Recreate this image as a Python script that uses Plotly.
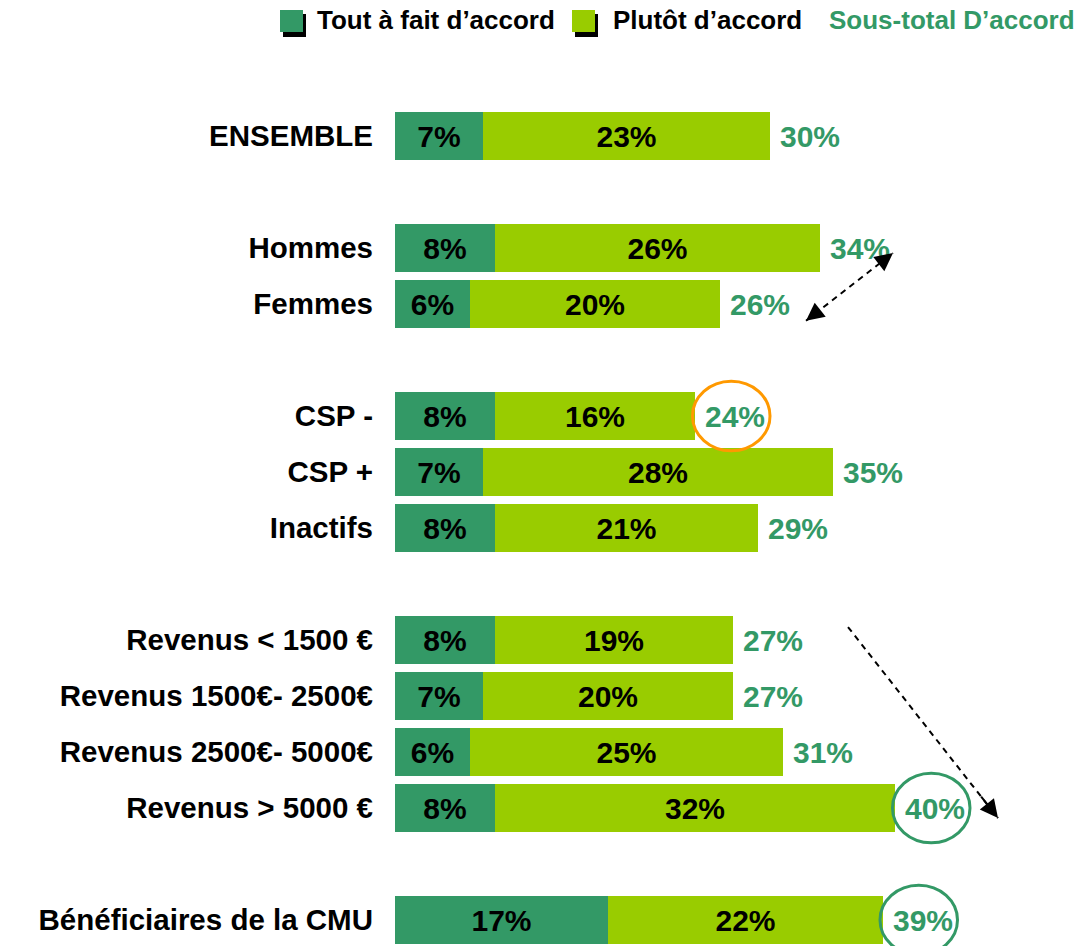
import plotly.graph_objects as go

# ---- data ----
categories = ["ENSEMBLE", "Hommes", "Femmes", "CSP -", "CSP +", "Inactifs",
              "Revenus < 1500 €", "Revenus 1500€- 2500€", "Revenus 2500€- 5000€",
              "Revenus > 5000 €", "Bénéficiaires de la CMU"]
row_pos = [0, 2, 3, 5, 6, 7, 9, 10, 11, 12, 14]
tout_a_fait = [7, 8, 6, 8, 7, 8, 8, 7, 6, 8, 17]
plutot = [23, 26, 20, 16, 28, 21, 19, 20, 25, 32, 22]
sous_total = [30, 34, 26, 24, 35, 29, 27, 27, 31, 40, 39]
legend_names = ["Tout à fait d’accord", "Plutôt d’accord", "Sous-total D’accord"]
circled = {"CSP -": "#FF9900", "Revenus > 5000 €": "#339966",
           "Bénéficiaires de la CMU": "#339966"}

DARK = "#339966"
LIGHT = "#99CC00"
FONT = "Liberation Sans"

# layout geometry (pixels)
W, H = 1081, 946
ML, MR, MT, MB = 395, 11, 80, 0
XMAX = 54.0
YTOP, YBOT = -1.0, 14.464

def px(xp):
    return (xp - ML) / (W - ML - MR)

def py(yp):
    return (H - MB - yp) / (H - MT - MB)

fig = go.Figure()
fig.add_trace(go.Bar(
    y=row_pos, x=tout_a_fait, orientation="h", width=0.86,
    marker=dict(color=DARK, line=dict(width=0)),
    text=[f"{v}%" for v in tout_a_fait], textposition="inside",
    insidetextanchor="middle", constraintext="none",
    textfont=dict(family=FONT, size=30, color="black", weight="bold"),
    name=legend_names[0], showlegend=False, hoverinfo="skip"))
fig.add_trace(go.Bar(
    y=row_pos, x=plutot, orientation="h", width=0.86,
    marker=dict(color=LIGHT, line=dict(width=0)),
    text=[f"{v}%" for v in plutot], textposition="inside",
    insidetextanchor="middle", constraintext="none",
    textfont=dict(family=FONT, size=30, color="black", weight="bold"),
    name=legend_names[1], showlegend=False, hoverinfo="skip"))

annotations = []
shapes = []
for cat, y, t in zip(categories, row_pos, sous_total):
    annotations.append(dict(
        x=t, y=y, xref="x", yref="y", text=f"{t}%", showarrow=False,
        xanchor="left", yanchor="middle", xshift=8,
        font=dict(family=FONT, size=30, color=DARK, weight="bold")))
    if cat in circled:
        shapes.append(dict(
            type="circle", xref="x", yref="y",
            x0=t + 2.9 - 3.1, x1=t + 2.9 + 3.1, y0=y - 0.62, y1=y + 0.62,
            line=dict(color=circled[cat], width=3)))

# dashed arrows (comparison markers)
arrows = [((32.88, 3.30), (39.84, 2.089), True),
          ((36.24, 8.768), (48.24, 12.18), False)]
for (xa, ya), (xb, yb), both in arrows:
    shapes.append(dict(type="line", xref="x", yref="y", x0=xa, y0=ya, x1=xb, y1=yb,
                       line=dict(color="black", width=2, dash="6px,5px")))

def head(tipx, tipy, fromx, fromy):
    annotations.append(dict(x=tipx, y=tipy, ax=fromx, ay=fromy, axref="x", ayref="y",
                            xref="x", yref="y", text="", showarrow=True,
                            arrowhead=2, arrowsize=1.8, arrowwidth=2, arrowcolor="black"))

for (xa, ya), (xb, yb), both in arrows:
    head(xb, yb, xb - (xb - xa) * 0.12, yb - (yb - ya) * 0.12)
    if both:
        head(xa, ya, xa + (xb - xa) * 0.12, ya + (yb - ya) * 0.12)

# legend (manual)
leg_sq = [(280, DARK, 315, legend_names[0]), (572, LIGHT, 611, legend_names[1])]
for x0, col, tx, name in leg_sq:
    shapes.append(dict(type="rect", xref="paper", yref="paper",
                       x0=px(x0 + 3), x1=px(x0 + 26), y0=py(37), y1=py(14),
                       fillcolor="black", line=dict(width=0)))
    shapes.append(dict(type="rect", xref="paper", yref="paper",
                       x0=px(x0), x1=px(x0 + 23), y0=py(32), y1=py(10),
                       fillcolor=col, line=dict(width=0)))
    annotations.append(dict(x=px(tx), y=py(20), xref="paper", yref="paper",
                            text=name, showarrow=False, xanchor="left", yanchor="middle",
                            font=dict(family=FONT, size=26, color="black", weight="bold")))
annotations.append(dict(x=px(827), y=py(20), xref="paper", yref="paper",
                        text=legend_names[2], showarrow=False, xanchor="left", yanchor="middle",
                        font=dict(family=FONT, size=26, color=DARK, weight="bold")))

fig.update_layout(
    barmode="stack", width=W, height=H,
    margin=dict(l=ML, r=MR, t=MT, b=MB, pad=0),
    plot_bgcolor="white", paper_bgcolor="white",
    showlegend=False, hovermode=False, bargap=0,
    xaxis=dict(range=[0, XMAX], visible=False, fixedrange=True),
    yaxis=dict(range=[YBOT, YTOP], tickvals=row_pos, ticktext=categories,
               showgrid=False, zeroline=False, showline=False, ticks="",
               ticklabelstandoff=21,
               tickfont=dict(family=FONT, size=29.5, color="black", weight="bold")),
    shapes=shapes, annotations=annotations,
)

fig.write_html("out.html", config={"displayModeBar": False},
               post_script="document.body.style.margin='0';document.body.style.overflow='hidden';")
